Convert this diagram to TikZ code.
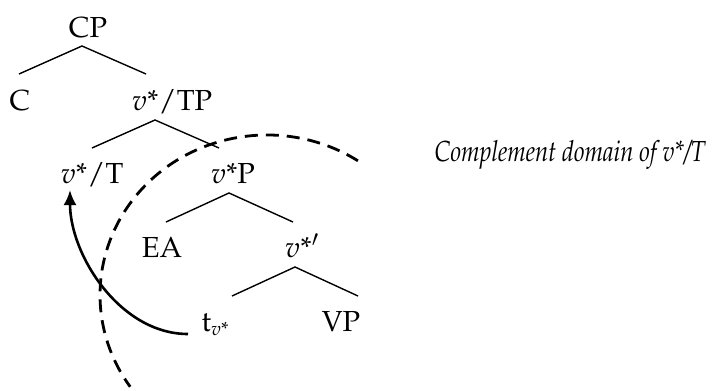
\documentclass[tikz,border=0pt]{standalone}
\usepackage[T1]{fontenc}
\usepackage{mathpazo}
\usetikzlibrary{arrows.meta}
\begin{document}
\begin{tikzpicture}[x=1pt,y=-1pt,
  lbl/.style={anchor=base,inner sep=0pt,font=\fontsize{29}{34}\selectfont},
  branch/.style={line width=1.4pt},
  dom/.style={line width=2.8pt,dash pattern=on 13pt off 8pt},
  move/.style={line width=2.6pt,-{Latex[length=15pt,width=13pt]}}]
\useasboundingbox (0,0) rectangle (716,391);
% nodes
\node[lbl] (CP) at (88,37) {CP};
\node[lbl] (C) at (20,110) {C};
\node[lbl] (vTP) at (172,110) {$v$*$/$TP};
\node[lbl] (vT) at (92,183) {$v$*$/$T};
\node[lbl] (vP) at (233,183) {$v$*P};
\node[lbl] (EA) at (162,257) {EA};
\node[lbl] (vbar) at (302,257) {$v$*$'$};
\node[lbl] (t) at (215,331) {t\raisebox{-0.35ex}{\fontsize{19}{22}\selectfont$v$*}};
\node[lbl] (VP) at (341,331) {VP};
\node[lbl] (comp) at (570,161) {\scalebox{0.82}[1]{\itshape Complement domain of v*/T}};
% branch ends
\coordinate (a1) at (82,46);   \coordinate (a1l) at (19,74);   \coordinate (a1r) at (146,74);
\coordinate (a2) at (155,120); \coordinate (a2l) at (92,148);  \coordinate (a2r) at (219,148);
\coordinate (a3) at (229,193); \coordinate (a3l) at (166,222); \coordinate (a3r) at (293,222);
\coordinate (a4) at (295,267); \coordinate (a4l) at (232,296); \coordinate (a4r) at (358,296);
\draw[branch] (a1l) -- (a1) -- (a1r);
\draw[branch] (a2l) -- (a2) -- (a2r);
\draw[branch] (a3l) -- (a3) -- (a3r);
\draw[branch] (a4l) -- (a4) -- (a4r);
% movement arrow
\coordinate (ts) at (188,334);
\coordinate (tip) at (70,190);
\draw[move] (ts) .. controls (120,334) and (70,255) .. (tip);
% complement domain
\coordinate (ctr) at (267,295);
\coordinate (arcstart) at ([shift={(57:167pt and 160pt)}]ctr);
\draw[dom] (arcstart) arc[start angle=57,end angle=215,x radius=167pt,y radius=160pt];
\end{tikzpicture}
\end{document}
